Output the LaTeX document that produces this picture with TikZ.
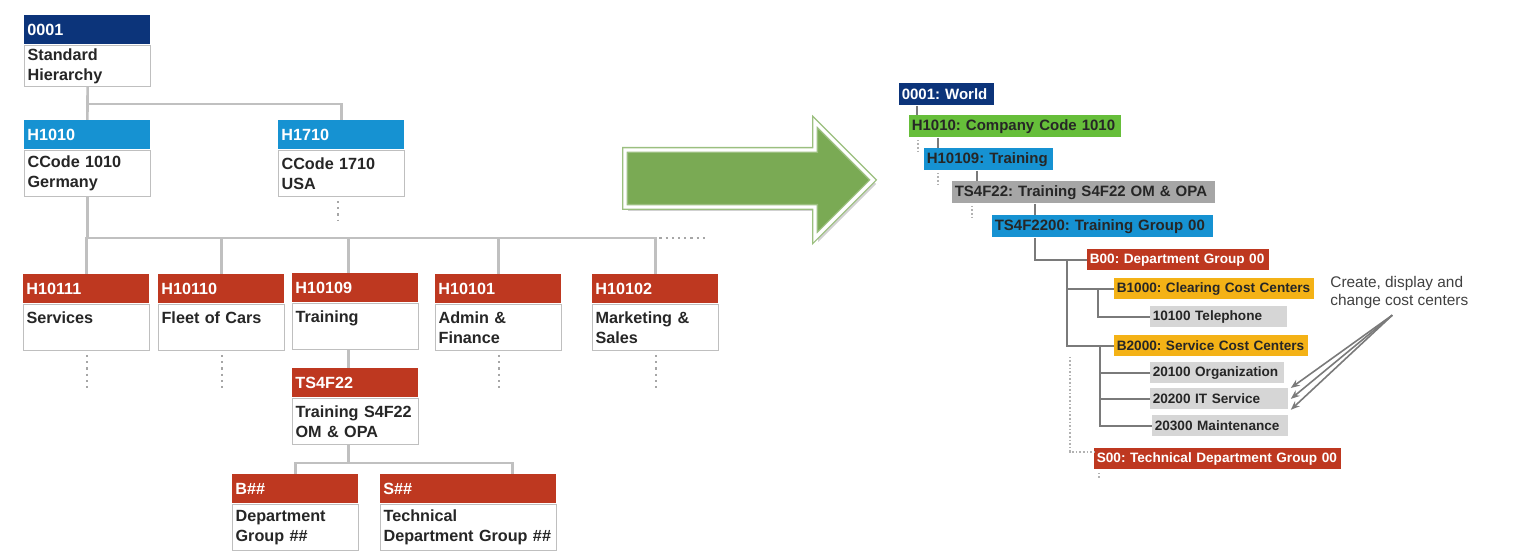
\documentclass[tikz,border=0pt]{standalone}
\usepackage{fontspec}
\setmainfont{Liberation Sans}
\usepackage{tikz}
\usetikzlibrary{positioning, calc, arrows.meta}
\usepackage{xcolor}
\definecolor{unitnavy}{RGB}{12, 52, 122}
\definecolor{unitblue}{RGB}{22, 146, 210}
\definecolor{unitred}{RGB}{190, 56, 32}
\definecolor{unitgreen}{RGB}{102, 190, 58}
\definecolor{unitgold}{RGB}{244, 178, 22}
\definecolor{unitgray}{RGB}{166, 166, 166}
\definecolor{ccgray}{RGB}{214, 214, 214}
\definecolor{arrowgreen}{RGB}{122, 170, 84}
\definecolor{linkgray}{RGB}{192, 192, 192}
\definecolor{treegray}{RGB}{122, 122, 122}
\frenchspacing
\hyphenpenalty=10000

\tikzset{
  unithead/.style={anchor=north west, fill=#1, text=white,
    font=\bfseries\fontsize{8.1}{10}\selectfont, inner xsep=1.5pt, inner ysep=0pt,
    minimum height=14.5pt, text width=60pt, align=left},
  unitbody/.style={anchor=north west, draw=gray!50, line width=0.6pt, fill=white,
    text=black!85, font=\bfseries\fontsize{8.1}{10}\selectfont, inner xsep=1.5pt,
    inner ysep=1.5pt, minimum height=23pt, text width=60pt, align=left},
  link/.style={draw=linkgray, line width=1.3pt},
  linkdot/.style={draw=gray!70, line width=1.1pt, dotted},
  tagbig/.style={anchor=north west, fill=#1, text=black!85,
    font=\bfseries\fontsize{7.5}{9}\selectfont, inner xsep=1.2pt,
    inner ysep=0pt, minimum height=11pt, align=left},
  tagsmall/.style={anchor=north west, fill=#1, text=black!85,
    font=\bfseries\fontsize{6.8}{8}\selectfont, inner xsep=1.2pt,
    inner ysep=0pt, minimum height=10.5pt, align=left},
  tree/.style={draw=treegray, line width=0.9pt},
  treedot/.style={draw=gray!60, line width=0.8pt, densely dotted},
  note/.style={anchor=north west, inner sep=0pt, align=left, text=black!75,
    font=\fontsize{7.7}{9}\selectfont},
}

\begin{document}
\begin{tikzpicture}[x=0.5pt, y=-0.5pt, >=Stealth]
    \useasboundingbox (0,0) rectangle (1522,560);

    % Standardhierarchie (links)
    \node[unithead=unitnavy] (root) at (24,15) {0001};
    \node[unitbody, minimum height=20pt] (root-b) at (root.south west) {Standard\\Hierarchy};

    \node[unithead=unitblue] (h1010) at (24,120) {H1010};
    \node[unitbody] (h1010-b) at (h1010.south west) {CCode 1010\\Germany};
    \node[unithead=unitblue] (h1710) at (278,120) {H1710};
    \node[unitbody] (h1710-b) at (h1710.south west) {CCode 1710\\USA};

    \node[unithead=unitred] (h10111) at (23,274) {H10111};
    \node[unitbody] (h10111-b) at (h10111.south west) {Services\\\mbox{}};
    \node[unithead=unitred] (h10110) at (158,274) {H10110};
    \node[unitbody] (h10110-b) at (h10110.south west) {Fleet of Cars\\\mbox{}};
    \node[unithead=unitred] (h10109) at (292,273) {H10109};
    \node[unitbody] (h10109-b) at (h10109.south west) {Training\\\mbox{}};
    \node[unithead=unitred] (h10101) at (435,274) {H10101};
    \node[unitbody] (h10101-b) at (h10101.south west) {Admin \&\\Finance};
    \node[unithead=unitred] (h10102) at (592,274) {H10102};
    \node[unitbody] (h10102-b) at (h10102.south west) {Marketing \&\\Sales};

    \node[unithead=unitred] (ts4f22) at (292,368) {TS4F22};
    \node[unitbody] (ts4f22-b) at (ts4f22.south west) {Training S4F22\\OM \& OPA};

    \node[unithead=unitred] (bgrp) at (232,474) {B\#\#};
    \node[unitbody] (bgrp-b) at (bgrp.south west) {Department\\Group \#\#};
    \node[unithead=unitred, text width=85pt] (sgrp) at (380,474) {S\#\#};
    \node[unitbody, text width=85pt] (sgrp-b) at (sgrp.south west) {Technical\\Department Group \#\#};

    % Verbindungen links
    \draw[link] (root-b.south) -- (h1010.north);
    \draw[link] (root-b.south) ++(0,17) -| (h1710.north);
    \draw[linkdot] ([xshift=-2pt,yshift=-2pt]h1710-b.south) -- ++(0,20);

    \path (h1010-b.south) ++(0,41) coordinate (bar);
    \coordinate (t-j) at ([xshift=-3.5pt]h10109.north);
    \draw[link] (h1010-b.south) -- (bar);
    \foreach \u in {h10111,h10110,h10101,h10102}
        \draw[link] (bar) -| (\u.north);
    \draw[link] (bar) -| (t-j);
    \draw[linkdot] (bar -| h10102.north) ++(4,0) -- ++(46,0);
    \foreach \u in {h10111,h10110,h10101,h10102}
        \draw[linkdot] ([yshift=-2pt]\u-b.south) -- ++(0,33);

    \draw[link] (h10109-b.south -| t-j) -- (t-j |- ts4f22.north);
    \coordinate (s-j) at ([xshift=22pt]sgrp.north);
    \path (ts4f22-b.south -| t-j) coordinate (t-s) ++(0,18) coordinate (bar2);
    \draw[link] (t-s) -- (bar2);
    \draw[link] (bar2) -| (bgrp.north);
    \draw[link] (bar2) -| (s-j);

    % Pfeil
    \path[fill=arrowgreen, draw=arrowgreen!75, line width=3pt, line join=miter,
          preaction={fill=black!18, transform canvas={xshift=1.5pt, yshift=-2pt}},
          postaction={draw=white, line width=1.6pt}]
        (625,150) -- (815,150) -- (815,122) -- (873,180) -- (815,238)
        -- (815,207) -- (625,207) -- cycle;

    % Baumdarstellung (rechts)
    \node[tagbig=unitnavy, text=white, text width=45.1pt] (world) at (899,83) {0001: World};
    \node[tagbig=unitgreen, text width=103.6pt] (h1010r) at (909,115) {H1010: Company Code 1010};
    \node[tagbig=unitblue, text width=62.1pt] (h10109r) at (924,148) {H10109: Training};
    \node[tagbig=unitgray, text width=129.1pt] (ts4f22r) at (952,181) {TS4F22: Training S4F22 OM \& OPA};
    \node[tagbig=unitblue, text width=108.1pt] (ts4f2200r) at (992,215) {TS4F2200: Training Group 00};
    \node[tagsmall=unitred, text=white, text width=88.6pt] (b00r) at (1087,249) {B00: Department Group 00};
    \node[tagsmall=unitgold, text width=97.6pt] (b1000r) at (1114,278) {B1000: Clearing Cost Centers};
    \node[tagsmall=ccgray, text width=66.1pt] (cc10100) at (1150,306) {10100 Telephone};
    \node[tagsmall=unitgold, text width=94.6pt] (b2000r) at (1114,335) {B2000: Service Cost Centers};
    \node[tagsmall=ccgray, text width=64.6pt] (cc20100) at (1150,362) {20100 Organization};
    \node[tagsmall=ccgray, text width=66.6pt] (cc20200) at (1150,388) {20200 IT Service};
    \node[tagsmall=ccgray, text width=65.6pt] (cc20300) at (1152,415) {20300 Maintenance};
    \node[tagsmall=unitred, text=white, text width=121.1pt] (s00r) at (1094,448) {S00: Technical Department Group 00};

    % Verbindungen rechts
    \coordinate (j1) at ([xshift=9pt]world.south west);
    \coordinate (j2) at ([xshift=14.5pt]h1010r.south west);
    \coordinate (j3) at ([xshift=26.5pt]h10109r.south west);
    \coordinate (j4) at ([xshift=41.5pt]ts4f22r.south west);
    \coordinate (j5) at ([xshift=21.5pt]ts4f2200r.south west);
    \coordinate (j6) at ([xshift=-10pt]b00r.west);
    \coordinate (j7) at ([xshift=-8pt]b1000r.west);
    \coordinate (j8) at ([xshift=-7pt]b2000r.west);
    \draw[tree] (j1) -- (j1 |- h1010r.north);
    \draw[tree] (j2) -- (j2 |- h10109r.north);
    \draw[tree] (j3) -- (j3 |- ts4f22r.north);
    \draw[tree] (j4) -- (j4 |- ts4f2200r.north);
    \draw[tree] (j5) |- (b00r.west);
    \draw[tree] (j6) |- (b1000r.west);
    \draw[tree] (j6) |- (b2000r.west);
    \draw[tree] (j7) |- (cc10100.west);
    \foreach \c in {cc20100,cc20200,cc20300}
        \draw[tree] (j8) |- (\c.west);

    \draw[treedot] ([xshift=4.5pt,yshift=-1pt]h1010r.south west) -- ++(0,14);
    \draw[treedot] ([xshift=7pt,yshift=-1pt]h10109r.south west) -- ++(0,13);
    \draw[treedot] ([xshift=10pt,yshift=-1pt]ts4f22r.south west) -- ++(0,13);
    \coordinate (j6b) at (j6 |- b2000r.south);
    \draw[treedot] ([xshift=1.5pt]j6b) |- ([yshift=3.5pt]s00r.west);
    \draw[treedot] ([xshift=2.5pt,yshift=-1.5pt]s00r.south west) -- ++(0,5);

    % Hinweis
    \node[note] (note) at (1330,276) {Create, display and\\change cost centers};
    \foreach \a in {north east, east, south east}
        \draw[->, treegray, line width=0.8pt, >={Stealth[length=4.5pt, width=3.5pt]}]
            ([xshift=-3.5pt,yshift=-3pt]note.south) -- ([xshift=1pt]cc20200.\a);

\end{tikzpicture}
\end{document}
